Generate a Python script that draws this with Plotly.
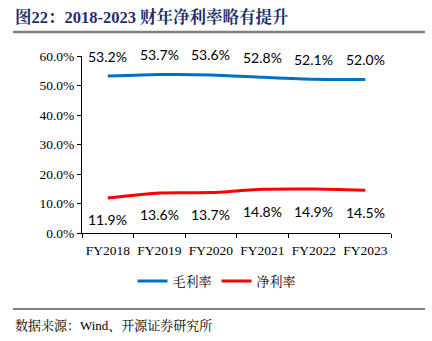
import plotly.graph_objects as go

categories = ["FY2018", "FY2019", "FY2020", "FY2021", "FY2022", "FY2023"]
gross_margin = [53.2, 53.7, 53.6, 52.8, 52.1, 52.0]
net_margin = [11.9, 13.6, 13.7, 14.8, 14.9, 14.5]
y_ticks = [0, 10, 20, 30, 40, 50, 60]
y_tick_labels = [f"{v:.1f}%" for v in y_ticks]

W, H = 432, 341
ML, MR, MT, MB = 82, 41, 56, 108

def px_x(px):
    return (px - ML) / (W - ML - MR)

def px_y(py):
    return (H - MB - py) / (H - MT - MB)

fig = go.Figure()
fig.add_trace(go.Scatter(x=categories, y=gross_margin, mode="lines", name="毛利率",
                         line=dict(color="#0070C0", width=3, shape="spline", smoothing=0.6)))
fig.add_trace(go.Scatter(x=categories, y=net_margin, mode="lines", name="净利率",
                         line=dict(color="#FF0000", width=3, shape="spline", smoothing=0.6)))

label_font = dict(family="Lato, Noto Sans", size=14, color="#000000")
for c, v in zip(categories, gross_margin):
    fig.add_annotation(x=c, y=v, text=f"{v:.1f}%", showarrow=False, yshift=20,
                       font=label_font, xref="x", yref="y")
for c, v in zip(categories, net_margin):
    fig.add_annotation(x=c, y=v, text=f"{v:.1f}%", showarrow=False, yshift=-22,
                       font=label_font, xref="x", yref="y")

serif = "Liberation Serif, Times New Roman, serif"
fig.update_layout(
    width=W, height=H,
    margin=dict(l=ML, r=MR, t=MT, b=MB),
    paper_bgcolor="white", plot_bgcolor="white",
    showlegend=True,
    legend=dict(orientation="h", x=px_x(217), xanchor="center", y=px_y(281), yanchor="middle",
                bgcolor="rgba(0,0,0,0)",
                font=dict(family="Noto Serif CJK SC, Noto Sans CJK SC", size=13, color="#000"),
                itemwidth=30, tracegroupgap=0),
    xaxis=dict(type="category", showline=True, linecolor="#000", linewidth=1,
               ticks="outside", tickson="boundaries", ticklen=4, tickcolor="#000",
               showgrid=False, tickangle=0, automargin=False, ticklabelstandoff=5,
               tickfont=dict(family=serif, size=13.5, color="#000"),
               range=[-0.5, 5.5]),
    yaxis=dict(range=[0, 60], tickvals=y_ticks, ticktext=y_tick_labels,
               showline=True, linecolor="#000", linewidth=1, ticks="outside",
               ticklen=4, tickcolor="#000", showgrid=False, zeroline=False,
               automargin=False,
               tickfont=dict(family=serif, size=13.5, color="#000")),
)

# Title
fig.add_annotation(xref="paper", yref="paper", x=px_x(13), y=px_y(17),
                   xanchor="left", yanchor="middle", showarrow=False,
                   text="<b>图22：2018-2023 财年净利率略有提升</b>",
                   font=dict(family="Liberation Serif, Noto Serif CJK SC, Noto Sans CJK SC", size=16.5, color="#1F2F6B"))
# Source
fig.add_annotation(xref="paper", yref="paper", x=px_x(13), y=px_y(325),
                   xanchor="left", yanchor="middle", showarrow=False,
                   text="数据来源：Wind、开源证券研究所",
                   font=dict(family="Liberation Serif, Noto Serif CJK SC, Noto Sans CJK SC", size=13, color="#000"))

fig.add_shape(type="line", xref="paper", yref="paper", x0=px_x(13), x1=px_x(425),
              y0=px_y(32), y1=px_y(32), line=dict(color="#808080", width=2.5))
fig.add_shape(type="line", xref="paper", yref="paper", x0=px_x(13), x1=px_x(425),
              y0=px_y(309), y1=px_y(309), line=dict(color="#000", width=1))

fig.write_html("out.html")
